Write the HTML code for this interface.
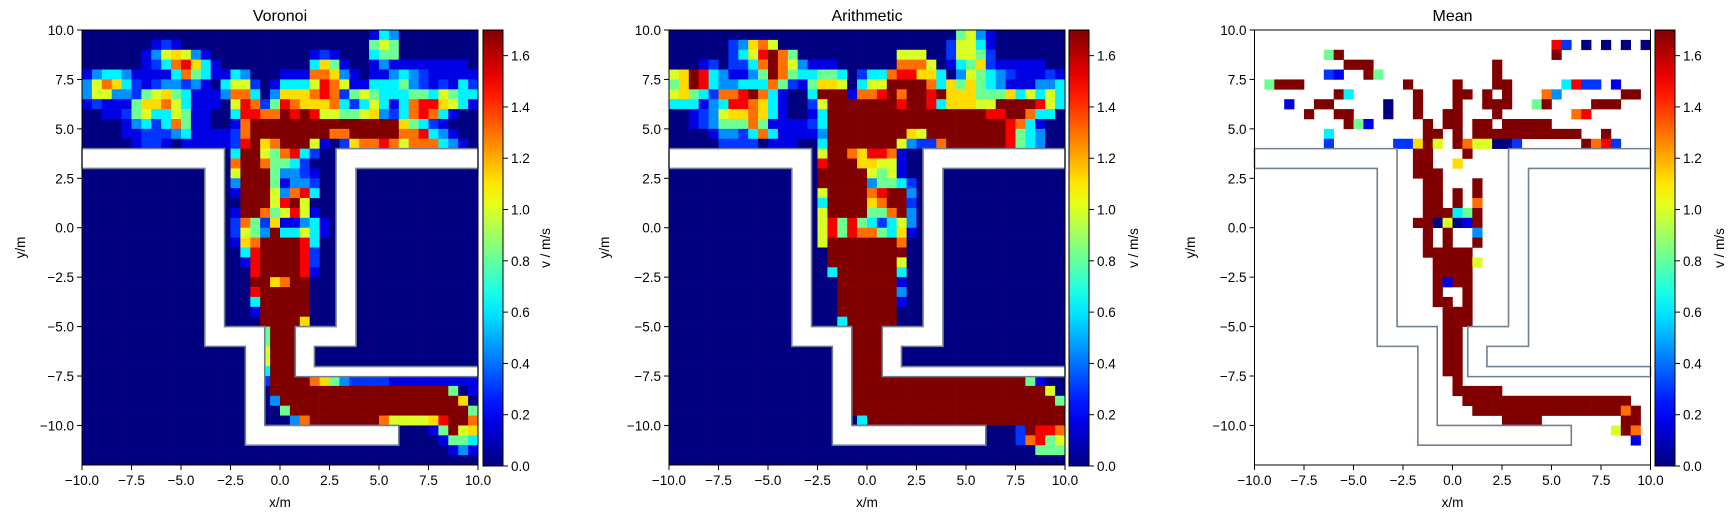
<!DOCTYPE html>
<html><head><meta charset="utf-8">
<style>
html,body{margin:0;padding:0;background:#fff;}
svg{display:block;font-family:"Liberation Sans","DejaVu Sans",sans-serif;}
</style></head>
<body>
<svg id="fig" width="1736" height="519" viewBox="0 0 1736 519" xmlns="http://www.w3.org/2000/svg">
<defs>
<linearGradient id="jetgrad" x1="0" y1="1" x2="0" y2="0"></linearGradient>
</defs>
</svg>
<script>
// ---- data ----
const titles = ["Voronoi", "Arithmetic", "Mean"];
const levelChars = "0123456789x";
const levelValues = [0.0, 0.17, 0.3, 0.45, 0.62, 0.82, 1.0, 1.12, 1.3, 1.5, 1.7];
const xTicks = [-10, -7.5, -5, -2.5, 0, 2.5, 5, 7.5, 10];
const xTickLabels = ["\u221210.0","\u22127.5","\u22125.0","\u22122.5","0.0","2.5","5.0","7.5","10.0"];
const yTicks = [10, 7.5, 5, 2.5, 0, -2.5, -5, -7.5, -10];
const yTickLabels = ["10.0","7.5","5.0","2.5","0.0","\u22122.5","\u22125.0","\u22127.5","\u221210.0"];
const cbTicks = [0, 0.2, 0.4, 0.6, 0.8, 1.0, 1.2, 1.4, 1.6];
const cbTickLabels = ["0.0","0.2","0.4","0.6","0.8","1.0","1.2","1.4","1.6"];
const leftWall = [[-10,4],[-2.8,4],[-2.8,-5],[-0.77,-5],[-0.77,-10],[6,-10],[6,-11],[-1.75,-11],[-1.75,-6],[-3.8,-6],[-3.8,3],[-10,3]];
const rightWall = [[10,4],[2.83,4],[2.83,-5],[0.77,-5],[0.77,-7.53],[10,-7.53],[10,-7.02],[1.74,-7.02],[1.74,-6],[3.84,-6],[3.84,3],[10,3]];
const Z="0000000000", X="xxxxxxxxxx", D="..........";
const gridVoronoi = [
"0000000000"+"0000000000"+"0000000001"+"4300000000",
"0000000121"+"0000000000"+"0000000005"+"6500000000",
"0000001367"+"6310000000"+"0001210004"+"5500000000",
"0000001248"+"9741000000"+"0004751001"+"3111111110",
"1344311114"+"8541143000"+"1118873101"+"1343211111",
"3687421233"+"2310466201"+"4446986114"+"4453212142",
"3663325675"+"4111388403"+"7778982565"+"4445546544",
"1211157786"+"4111069825"+"9877784246"+"4148997641",
"0011256446"+"5110049988"+"x9x9665567"+"3248984100",
"0000134248"+"5110018xxx"+X+"xx75421000",
"0000112223"+"4111128xxx"+"xxxxx88xxx"+"xx88943100",
"0000012210"+"1111129x78"+"xxx6102788"+"9868884310",
Z+"000004xx65"+"8942000000"+Z,
Z+"000008xx85"+"5420000000"+Z,
Z+"000006xxx5"+"3321000000"+Z,
Z+"000003xxx5"+"1332000000"+Z,
Z+"000001xxx6"+"3894000000"+Z,
Z+"000000xxx6"+"9x60000000"+Z,
Z+"000001xx85"+"6961000000"+Z,
Z+"0000028527"+"1134100000"+Z,
Z+"000002653x"+"4464100000"+Z,
Z+"00000178xx"+"xx94000000"+Z,
Z+"00000049xx"+"xx92000000"+Z,
Z+"00000019xx"+"xx92000000"+Z,
Z+"00000009xx"+"xx91000000"+Z,
Z+"0000000xx7"+"8xx0000000"+Z,
Z+"00000009xx"+"xxx0000000"+Z,
Z+"00000004xx"+"xxx0000000"+Z,
Z+"00000001xx"+"xxx0000000"+Z,
Z+"00000000xx"+"xx70000000"+Z,
Z+"000000005x"+"xx00000000"+Z,
Z+"000000005x"+"xx00000000"+Z,
Z+"000000006x"+"xx00000000"+Z,
Z+"000000006x"+"xx00000000"+Z,
Z+"000000004x"+"xx00000000"+Z,
Z+"000000002x"+"xxx8753222"+"2111111111",
Z+"000000000x"+X+"xxxxxxx501",
Z+"0000000003"+X+"xxxxxxxx70",
Z+Z+"5xxxxxxxxx"+"xxxxxxxxx5",
Z+Z+"038xxxxxxx"+"8666679xx8",
Z+Z+Z+"0000015x67",
Z+Z+Z+"0000001554",
Z+Z+Z+"0000000131",
Z+Z+Z+Z
];
const gridArithmetic = [
Z+Z+"0000000005"+"6310000000",
"0000002378"+"6000000000"+"0000000026"+"6410000000",
"0000002469"+"x850000000"+"0006660026"+"6520000000",
"0001202248"+"x863111000"+"0008886014"+"5721111100",
"67x9431135"+"x854455402"+"4489977403"+"6543211121",
"57x9433444"+"8521577604"+"66xxxx8475"+"7543111334",
"67542889x8"+"41004xxx18"+"89x8xx9x77"+"7555746464",
"4441349987"+"410026xxxx"+"xxx9xx9477"+"766xxxx964",
"0012367787"+"410014xxxx"+X+"xx99xx8440",
"0012355585"+"111124xxxx"+X+"xxxx984100",
"0000133248"+"411113xxxx"+"xxxx76xxxx"+"xxxx954300",
"0000022220"+"111004xxxx"+"xxx63228xx"+"xxxx954300",
Z+"000006xx87"+"9981000000"+Z,
Z+"000009xxx7"+"7661000000"+Z,
Z+"00000xxxxx"+"6561000000"+Z,
Z+"00000xxxxx"+"3554200000"+Z,
Z+"000006xxxx"+"89xx300000"+Z,
Z+"000004xxxx"+"78xx200000"+Z,
Z+"000006xxxx"+"558x300000"+Z,
Z+"0000069595"+"4246300000"+Z,
Z+"0000069598"+"8547100000"+Z,
Z+"000006xxxx"+"xxx8000000"+Z,
Z+"000000xxxx"+"xxxx000000"+Z,
Z+"000000xxxx"+"xxx6000000"+Z,
Z+"0000004xxx"+"xxx4000000"+Z,
Z+"0000000xxx"+"xxx1000000"+Z,
Z+"0000000xxx"+"xxx3000000"+Z,
Z+"0000000xxx"+"xxx1000000"+Z,
Z+"0000000xxx"+"xxx0000000"+Z,
Z+"00000004xx"+"xxx0000000"+Z,
Z+"00000000xx"+"xx00000000"+Z,
Z+"00000000xx"+"xx00000000"+Z,
Z+"00000000xx"+"xx00000000"+Z,
Z+"00000000xx"+"xx00000000"+Z,
Z+"00000000xx"+"xx00000000"+Z,
Z+"00000000xx"+X+"xxxxxx5100",
Z+"00000000xx"+X+"xxxxxxxx60",
Z+"00000000xx"+X+"xxxxxxxxx5",
Z+"00000000xx"+X+X,
Z+"0000000004"+X+X,
Z+Z+Z+"000002x998",
Z+Z+Z+"0000028956",
Z+Z+Z+"0000000555",
Z+Z+Z+Z
];
const gridMean = [
D+D+D+D,
D+D+D+"92.0.0.0.0",
".......5x."+D+D+"x.........",
".........x"+"xx........"+"....x....."+D,
".......21."+".x5......."+"....x....."+D,
".5xxx....."+".....x...."+"x...xx...."+".4922.1...",
"........x4"+"......x..."+"xx.x.x...8"+"3......xx.",
"...1..xx.."+"...0..x..."+"x..xxx..5x"+"....xxx...",
".....x..xx"+"...0..x..x"+"x...x....."+"..89......",
".........x"+"51.....x.x"+"x.xx.xxxxx"+D,
".......4.."+".......xx."+"x.xxxxxxxx"+"xxx..x....",
".......2.."+"....227x6."+"x866002..."+"...x892...",
D+"......xx.."+".x........"+D,
D+"......xx.."+"7........."+D,
D+"......xxx."+D+D,
D+".......xx."+"..x......."+D,
D+".......xx."+"x.x......."+D,
D+".......xx."+"x.8......."+D,
D+".......xxx"+"45x......."+D,
D+"......xx06"+"01x......."+D,
D+".......x.x"+"..3......."+D,
D+".......x.x"+"..x......."+D,
D+".......xxx"+"xx........"+D,
D+"........xx"+"xx6......."+D,
D+"........xx"+"xx........"+D,
D+"........x1"+"xx........"+D,
D+"........x."+".x........"+D,
D+"........xx"+".x........"+D,
D+".........x"+"xx........"+D,
D+".........x"+"xx........"+D,
D+".........x"+"x........."+D,
D+".........x"+"x........."+D,
D+".........x"+"x........."+D,
D+".........x"+"x........."+D,
D+".........x"+"x........."+D,
D+D+"x........."+D,
D+D+"xxxxx....."+D,
D+D+".xxxxxxxxx"+"xxxxxxxx..",
D+D+"..xxxxxxxx"+"xxxxxxx8x.",
D+D+".....xxxx."+".......xx.",
D+D+D+"......6x8.",
D+D+D+"........1.",
D+D+D+D,
D+D+D+D
];
const grids = [gridVoronoi, gridArithmetic, gridMean];

// ---- layout ----
const NS = "http://www.w3.org/2000/svg";
const svg = document.getElementById("fig");
const axLeft = [82, 669, 1254.5], axTop = 30, axW = 396, axH = 435;
const cbLeft = [483, 1069, 1655], cbW = 20, cbTop = 30, cbBot = 466;
const ylabX = [20, 604, 1190], cbLabX = [545, 1133, 1719];
const vmax = 1.7, cell = 0.5;

function jet(t){
  t = Math.max(0, Math.min(1, t));
  const c = v => Math.round(255*Math.max(0, Math.min(1, v)));
  return `rgb(${c(1.5-Math.abs(4*t-3))},${c(1.5-Math.abs(4*t-2))},${c(1.5-Math.abs(4*t-1))})`;
}
function mk(tag, attrs, parent){
  const e = document.createElementNS(NS, tag);
  for (const k in attrs) e.setAttribute(k, attrs[k]);
  (parent||svg).appendChild(e);
  return e;
}
const grad = document.getElementById("jetgrad");
for (let i=0;i<=20;i++){
  mk("stop", {offset: (i/20), "stop-color": jet(i/20)}, grad);
}

for (let p=0;p<3;p++){
  const L = axLeft[p];
  const sx = x => L + (x+10)/20*axW;
  const sy = y => axTop + (10-y)/22*axH;
  const g = mk("g", {});
  
  
  const grid = grids[p];
  for (let r=0;r<grid.length;r++){
    const row = grid[r];
    for (let c=0;c<row.length;c++){
      const ch = row[c];
      const li = levelChars.indexOf(ch);
      if (li<0) continue;
      const v = levelValues[li];
      const x0 = -10 + c*cell, y0 = 10 - r*cell;
      const rc = mk("rect", {x: sx(x0), y: sy(y0), width: sx(x0+cell)-sx(x0)+0.3, height: sy(y0-cell)-sy(y0)+0.3, fill: jet(v/vmax)}, g);
      
      
    }
  }
  [leftWall, rightWall].forEach((w, wi) => {
    const pts = w.map(q => sx(q[0]) + "," + sy(q[1])).join(" ");
    const pg = mk("polygon", {points: pts, fill: p<2 ? "#ffffff" : "none", stroke: "#708090", "stroke-width": 1.6, "stroke-linejoin":"miter"}, g);
    
    
  });
  const fr = mk("rect", {x: L, y: axTop, width: axW, height: axH, fill: "none", stroke: "#000", "stroke-width": 1}, g);
  
  
  const tt = mk("text", {x: L+axW/2, y: 21, "font-size": 16, "text-anchor": "middle"}, g);
  tt.textContent = titles[p];
  
  
  xTicks.forEach((t,i) => {
    const x = sx(t);
    mk("line", {x1:x, y1:axTop+axH, x2:x, y2:axTop+axH+5, stroke:"#000"}, g);
    const tl = mk("text", {x:x, y:axTop+axH+20, "font-size":13.5, "text-anchor":"middle"}, g);
    tl.textContent = xTickLabels[i];
    
    
  });
  yTicks.forEach((t,i) => {
    const y = sy(t);
    mk("line", {x1:L-5, y1:y, x2:L, y2:y, stroke:"#000"}, g);
    const tl = mk("text", {x:L-8, y:y+5, "font-size":13.5, "text-anchor":"end"}, g);
    tl.textContent = yTickLabels[i];
    
    
  });
  const xl = mk("text", {x:L+axW/2, y:507, "font-size":13.5, "text-anchor":"middle"}, g);
  xl.textContent = "x/m";
  
  
  const yl = mk("text", {x:0, y:0, "font-size":13.5, "text-anchor":"middle", transform:`translate(${ylabX[p]+5},${axTop+axH/2}) rotate(-90)`}, g);
  yl.textContent = "y/m";
  
  
  // colorbar
  const CB = cbLeft[p];
  const cb = mk("rect", {x:CB, y:cbTop, width:cbW, height:cbBot-cbTop, fill:"url(#jetgrad)", stroke:"#000", "stroke-width":1}, g);
  
  
  cbTicks.forEach((t,i) => {
    const y = cbBot - t/vmax*(cbBot-cbTop);
    mk("line", {x1:CB+cbW, y1:y, x2:CB+cbW+5, y2:y, stroke:"#000"}, g);
    const tl = mk("text", {x:CB+cbW+8, y:y+5, "font-size":13.5}, g);
    tl.textContent = cbTickLabels[i];
    
    
  });
  const cl = mk("text", {x:0, y:0, "font-size":13.5, "text-anchor":"middle", transform:`translate(${cbLabX[p]+5},${(cbTop+cbBot)/2}) rotate(-90)`}, g);
  cl.textContent = "v / m/s";
  
  
}
</script>
</body></html>
